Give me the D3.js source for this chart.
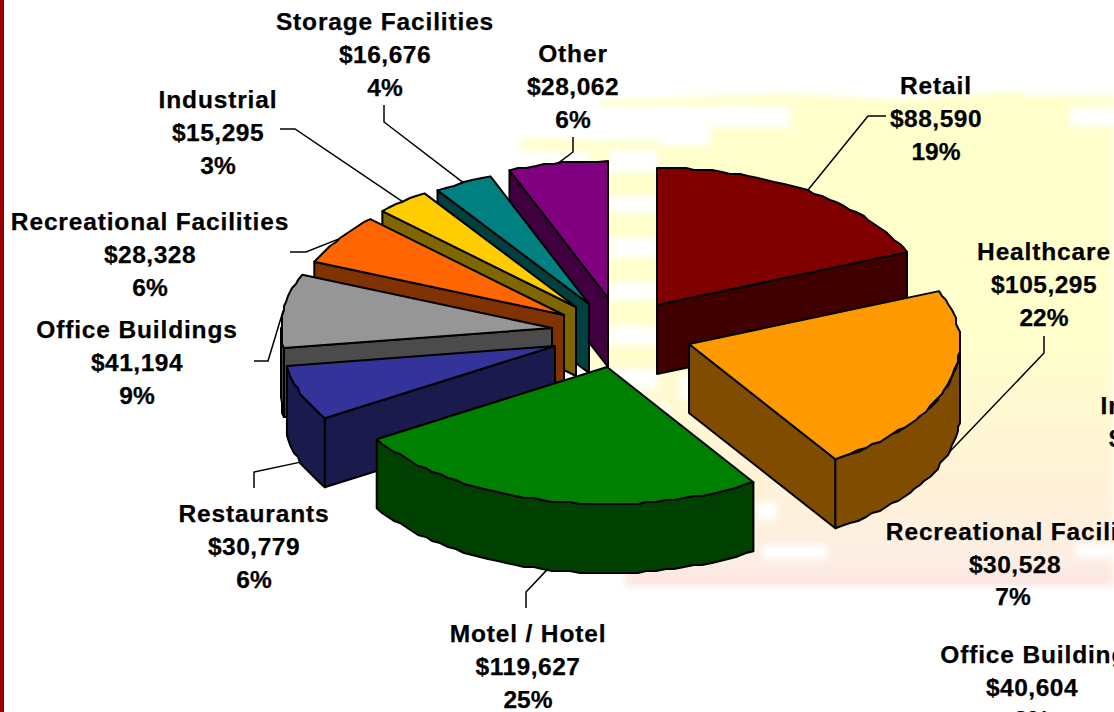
<!DOCTYPE html>
<html>
<head>
<meta charset="utf-8">
<script src="https://cdn.jsdelivr.net/npm/d3@7"></script>
<style>
	html, body { margin: 0; padding: 0; background: #fff; overflow: hidden; }
	text { font-family: "Liberation Sans", Arial, sans-serif; font-weight: bold; font-size: 24.5px; fill: #000; stroke: #000; stroke-width: 0.25; text-anchor: middle; dominant-baseline: central; }
	text.name { letter-spacing: 0.85px; }
	text.amount { letter-spacing: 0.5px; }
</style>
</head>
<body>
<div id="root"></div>
<script>
const width = 1114;
const height = 712;

// left pie, clockwise from 12 o'clock
const categories = ['Retail', 'Healthcare', 'Motel / Hotel', 'Restaurants', 'Office Buildings', 'Recreational Facilities', 'Industrial', 'Storage Facilities', 'Other'];
const amounts = [88590, 105295, 119627, 30779, 41194, 28328, 15295, 16676, 28062];
const sliceColors = ['#800000', '#ff9900', '#008000', '#333399', '#969696', '#ff6600', '#ffcc00', '#008080', '#800080'];

// labels of the next pie, it runs off the page
const rightNames = ['Industrial', 'Recreational Facilities', 'Office Buildings'];
const rightAmounts = ['$18,900', '$30,528', '$40,604'];
const rightShares = ['', '7%', '9%'];

// layout, same order as categories
const apexes = [[657, 305], [689, 344], [607, 367], [555, 346], [552, 328], [564, 315], [576, 307], [589, 304], [608, 298]];
const labelPos = [[936, 85], [1044, 251], [528, 633], [254, 513], [137, 329], [150, 221], [218, 99], [385, 21], [573, 53]];
const leaderFrom = [[886, 116], [1044, 336], [526, 608], [254, 488], [254, 361], [290, 252], [280, 129], [384, 105], [573, 137]];
const leaderElbow = [[868, 116], [1044, 353], [526, 592], [254, 472], [268, 361], [306, 252], [295, 129], [384, 122], [573, 152]];
const rightLabelPos = [[1160, 405], [1025, 531], [1041, 654]];
const rightLine2X = [1155, 1015, 1032];
const rightLine3X = [1155, 1013, 1032];
const lineGap = 33;

const rx = 271;
const ry = 137;
const depth = 69;
const drawOrder = [0, 8, 7, 6, 5, 4, 3, 2, 1];

const svg = d3.select("#root").append("svg")
	.attr("width", width)
	.attr("height", height)
	.style("display", "block");

renderBackground();

const pieData = d3.pie().sort(null)(amounts);
const total = d3.sum(amounts);
const money = d3.format("$,");
const percent = d3.format(".0%");

const rimPoint = (apex, a) => [apex[0] + rx * Math.sin(a), apex[1] - ry * Math.cos(a)];
const dropped = p => [p[0], p[1] + depth];
const line = d3.line();
const half = c => { const r = d3.rgb(c); return d3.rgb(r.r / 2, r.g / 2, r.b / 2).formatHex(); };

// the outline of the original is a rough polygon, not a clean ellipse
function arcPoints(apex, a0, a1) {
	const steps = Math.max(1, Math.round((a1 - a0) / (Math.PI / 90)));
	return d3.range(steps + 1).map(i => {
		const p = rimPoint(apex, a0 + (a1 - a0) * i / steps);
		if (i === 0 || i === steps) return p;
		return [Math.round(p[0] / 2) * 2, Math.round(p[1] / 2) * 2];
	});
}

renderLeaders();
drawOrder.forEach(i => renderSlice(pieData[i], i));
renderLabels();

function renderLeaders() {
	const g = svg.append("g").attr("fill", "none").attr("stroke", "#000").attr("stroke-width", 1.5);
	pieData.forEach((d, i) => {
		const mid = (d.startAngle + d.endAngle) / 2;
		let end = rimPoint(apexes[i], mid);
		if (Math.cos(mid) < 0) end = dropped(end);
		g.append("path").attr("d", line([leaderFrom[i], leaderElbow[i], end]));
	});
}

function renderSlice(d, i) {
	const apex = apexes[i];
	const g = svg.append("g")
		.attr("stroke", "#000")
		.attr("stroke-width", 2)
		.attr("stroke-linejoin", "round");
	const sideColor = half(sliceColors[i]);
	const a0 = d.startAngle;
	const a1 = d.endAngle;

	const cutFace = a => {
		const outer = rimPoint(apex, a);
		g.append("path")
			.attr("fill", sideColor)
			.attr("d", line([apex, outer, dropped(outer), dropped(apex)]) + "Z");
	};
	if (a1 < Math.PI) cutFace(a1);
	if (a0 > Math.PI) cutFace(a0);

	// rim is only seen on the front half
	const from = Math.max(a0, Math.PI / 2);
	const to = Math.min(a1, Math.PI * 1.5);
	if (from < to) {
		const top = arcPoints(apex, from, to);
		const bottom = top.map(dropped).reverse();
		g.append("path")
			.attr("fill", sideColor)
			.attr("d", line(top.concat(bottom)) + "Z");
	}

	g.append("path")
		.attr("fill", sliceColors[i])
		.attr("d", line([apex].concat(arcPoints(apex, a0, a1))) + "Z");
}

function renderLabels() {
	const g = svg.append("g");
	pieData.forEach((d, i) => {
		const rows = [categories[i], money(amounts[i]), percent(amounts[i] / total)];
		const rowClass = ["name", "amount", null];
		rows.forEach((row, r) => {
			g.append("text")
				.attr("class", rowClass[r])
				.attr("x", labelPos[i][0])
				.attr("y", labelPos[i][1] + r * lineGap)
				.text(row);
		});
	});
	rightNames.forEach((name, i) => {
		const y = rightLabelPos[i][1];
		g.append("text").attr("class", "name").attr("x", rightLabelPos[i][0]).attr("y", y).text(name);
		g.append("text").attr("class", "amount").attr("x", rightLine2X[i]).attr("y", y + lineGap).text(rightAmounts[i]);
		if (rightShares[i]) g.append("text").attr("x", rightLine3X[i]).attr("y", y + lineGap * 2 - 1).text(rightShares[i]);
	});
}

function renderBackground() {
	const defs = svg.append("defs");
	const grad = defs.append("linearGradient")
		.attr("id", "wash")
		.attr("x1", 0).attr("x2", 0).attr("y1", 0).attr("y2", 1);
	[[0, '#ffffcc'], [0.5, '#ffffcc'], [0.8, '#fff2d8'], [0.95, '#fdeee4'], [1, '#fce4e0']].forEach(s => {
		grad.append("stop").attr("offset", s[0]).attr("stop-color", s[1]);
	});
	defs.append("filter").attr("id", "soft")
		.attr("x", "-10%").attr("y", "-10%").attr("width", "120%").attr("height", "120%")
		.append("feGaussianBlur").attr("stdDeviation", 3);

	const bg = svg.append("g");
	bg.append("g").attr("filter", "url(#soft)")
		.append("path")
		.attr("fill", "url(#wash)")
		.attr("d", "M600 100 L790 94 L900 100 L1010 92 L1114 90 L1114 586 L625 586 L625 572 L590 500 L590 152 L515 150 L525 138 L600 140Z");

	// white holes in the cloud texture
	const holes = [
		[650, 106, 140, 22], [590, 106, 70, 34], [660, 128, 50, 18], [1020, 86, 100, 9], [1070, 107, 50, 19],
		[609, 150, 48, 22], [609, 196, 48, 17], [609, 238, 48, 20], [609, 282, 48, 18], [609, 326, 48, 19], [609, 369, 48, 20],
		[680, 375, 30, 25], [640, 405, 30, 22],
		[757, 502, 20, 18], [762, 545, 65, 14], [1075, 545, 45, 12]
	];
	bg.append("g").attr("filter", "url(#soft)").attr("fill", "#fff")
		.selectAll("rect").data(holes).enter()
		.append("rect")
		.attr("x", d => d[0]).attr("y", d => d[1])
		.attr("width", d => d[2]).attr("height", d => d[3]);

	// red strip on the left edge
	bg.append("rect").attr("x", 0).attr("y", 0).attr("width", 4).attr("height", height).attr("fill", "#990000");
}
</script>
</body>
</html>
